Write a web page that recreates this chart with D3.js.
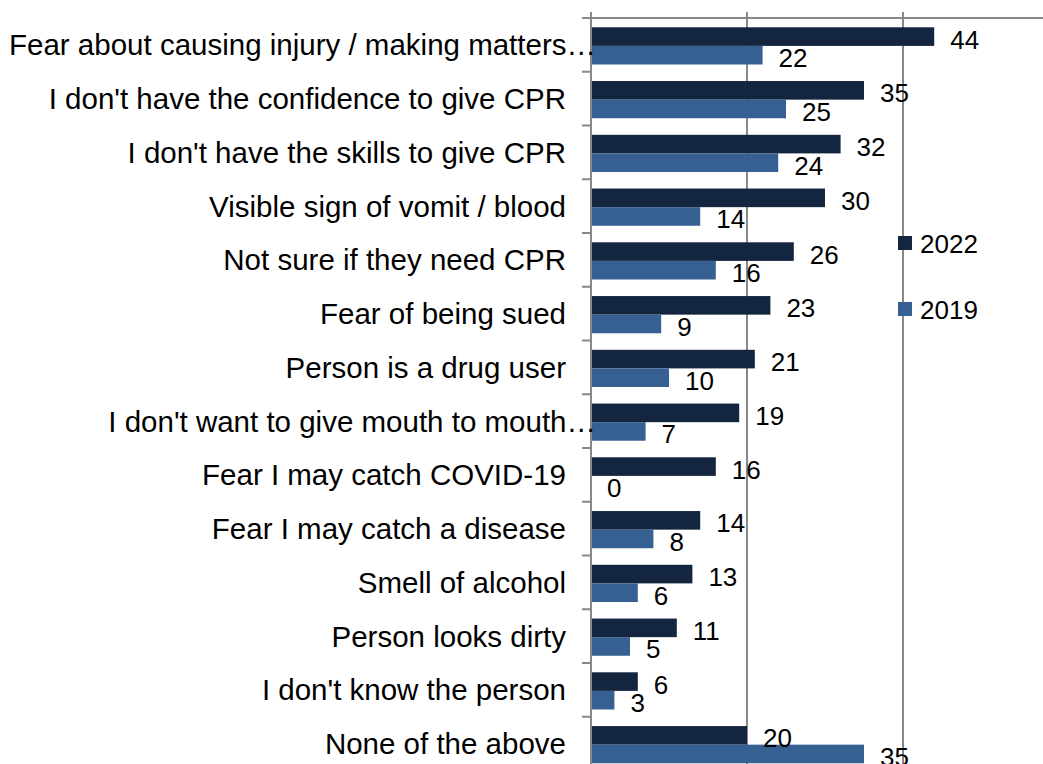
<!DOCTYPE html>
<html>
<head>
<meta charset="utf-8">
<script src="https://cdn.jsdelivr.net/npm/d3@7"></script>
<style>
  body { margin: 0; background: #fff; }
  svg { display: block; font-family: "Liberation Sans", Arial, sans-serif; }
</style>
</head>
<body>
<svg id="chart" width="1043" height="764"></svg>
<script>
const categories = [
  "Fear about causing injury / making matters…",
  "I don't have the confidence to give CPR",
  "I don't have the skills to give CPR",
  "Visible sign of vomit / blood",
  "Not sure if they need CPR",
  "Fear of being sued",
  "Person is a drug user",
  "I don't want to give mouth to mouth…",
  "Fear I may catch COVID-19",
  "Fear I may catch a disease",
  "Smell of alcohol",
  "Person looks dirty",
  "I don't know the person",
  "None of the above"
];
const seriesNames = ["2022", "2019"];
const values2022 = [44, 35, 32, 30, 26, 23, 21, 19, 16, 14, 13, 11, 6, 20];
const values2019 = [22, 25, 24, 14, 16, 9, 10, 7, 0, 8, 6, 5, 3, 35];
const xTicks = [0, 20, 40, 60];
const colors = {"2022": "#13253f", "2019": "#376092"};

const svg = d3.select("#chart");
const x0 = 591, plotTop = 18, band = 53.75;
const x = d3.scaleLinear().domain([0, 60]).range([x0, x0 + 468]);
const y = d3.scaleBand().domain(categories).range([plotTop, plotTop + band * categories.length]).padding(0);
const ys = d3.scaleBand().domain(seriesNames).range([9.3, 46.5]).padding(0);

const data = categories.map((c, i) => ({cat: c, vals: [
  {s: "2022", v: values2022[i]}, {s: "2019", v: values2019[i]}
]}));

const gridColor = "#888888";
// gridlines
svg.append("g").selectAll("line").data(xTicks.slice(1)).join("line")
  .attr("x1", d => x(d)).attr("x2", d => x(d))
  .attr("y1", plotTop - 6).attr("y2", 770)
  .attr("stroke", gridColor).attr("stroke-width", 2);

// top axis line
svg.append("line").attr("x1", x0).attr("x2", 1043).attr("y1", plotTop).attr("y2", plotTop)
  .attr("stroke", gridColor).attr("stroke-width", 2);

// bars
const g = svg.append("g").selectAll("g").data(data).join("g")
  .attr("transform", d => `translate(0,${y(d.cat)})`);
g.selectAll("rect").data(d => d.vals).join("rect")
  .attr("x", x(0)).attr("y", d => ys(d.s))
  .attr("width", d => x(d.v) - x(0)).attr("height", ys.bandwidth())
  .attr("fill", d => colors[d.s]);
g.selectAll("text.val").data(d => d.vals).join("text").attr("class", "val")
  .attr("x", d => x(d.v) + 16).attr("y", d => ys(d.s) + ys.bandwidth() / 2 + 3)
  .attr("dominant-baseline", "central")
  .attr("font-size", 26).attr("fill", "#000")
  .text(d => d.v);

// left axis
svg.append("line").attr("x1", x0).attr("x2", x0).attr("y1", plotTop - 6).attr("y2", 770)
  .attr("stroke", gridColor).attr("stroke-width", 2);
const bounds = categories.map(c => y(c)).concat([y.range()[1]]);
svg.append("g").selectAll("line").data(bounds).join("line")
  .attr("x1", x0 - 9).attr("x2", x0).attr("y1", d => d).attr("y2", d => d)
  .attr("stroke", gridColor).attr("stroke-width", 2);

// category labels
svg.append("g").selectAll("text").data(categories).join("text")
  .attr("x", d => d.endsWith("…") ? 596 : 566)
  .attr("y", d => y(d) + band / 2)
  .attr("text-anchor", "end").attr("dominant-baseline", "central")
  .attr("font-size", 29.5).attr("fill", "#000")
  .text(d => d);

// legend
const lg = svg.append("g").selectAll("g").data(seriesNames).join("g")
  .attr("transform", (d, i) => `translate(898,${243 + i * 66})`);
lg.append("rect").attr("x", 0).attr("y", -7).attr("width", 14).attr("height", 14)
  .attr("fill", d => colors[d]);
lg.append("text").attr("x", 22).attr("y", 1).attr("dominant-baseline", "central")
  .attr("font-size", 26).attr("fill", "#000").text(d => d);
</script>
</body>
</html>
